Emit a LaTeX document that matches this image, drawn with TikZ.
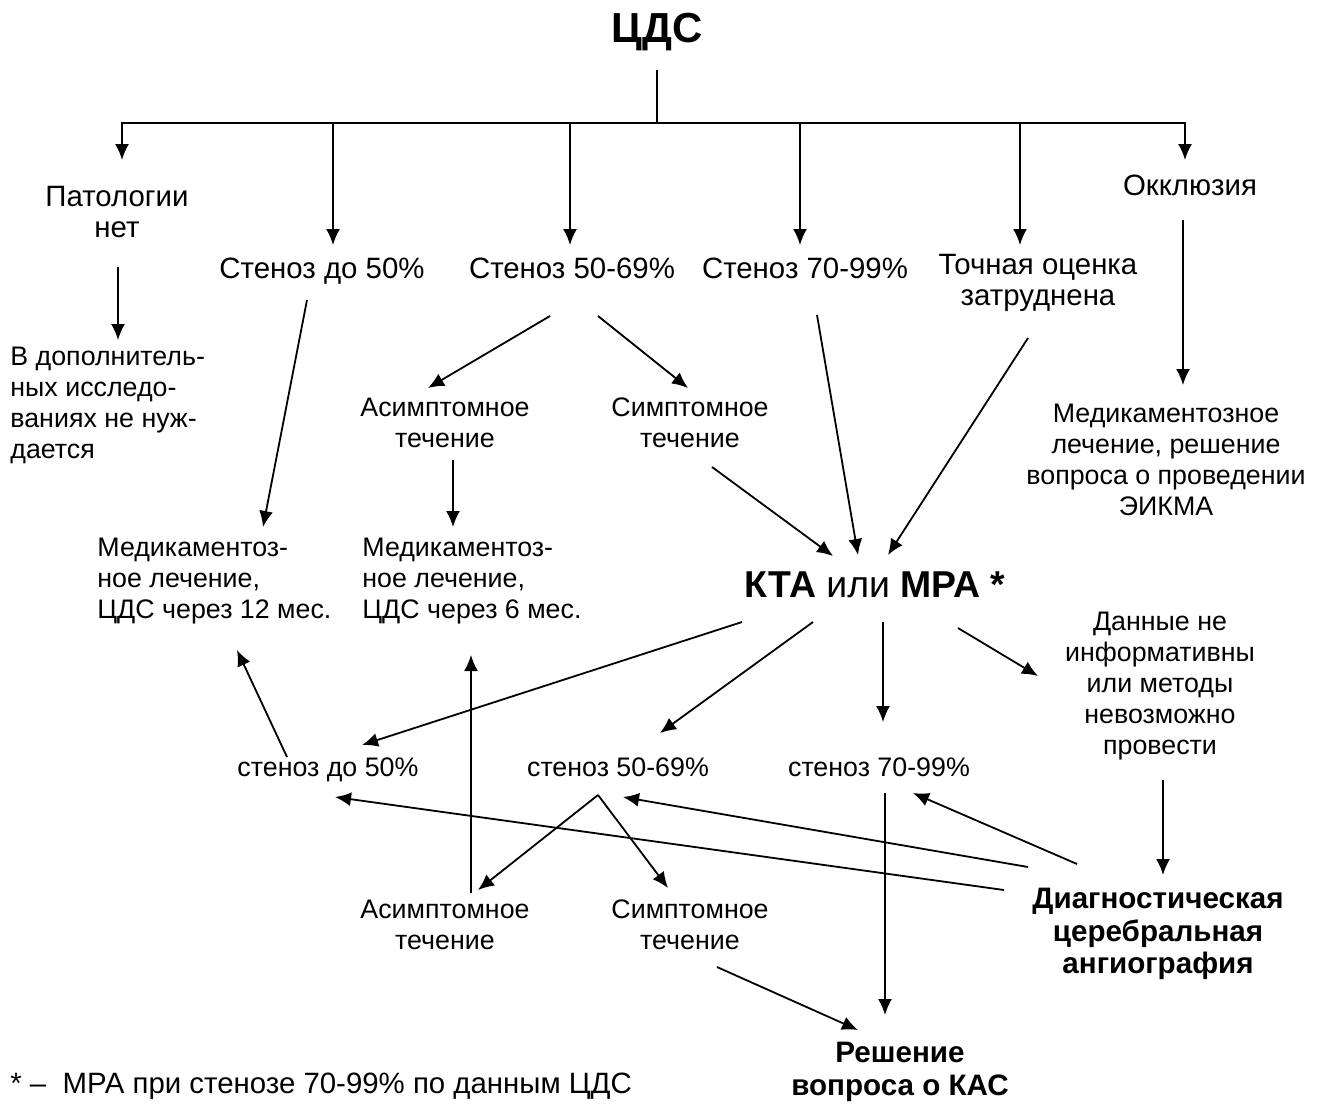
\documentclass[tikz,border=0pt]{standalone}
\usepackage{fontspec}
\setmainfont{Liberation Sans}
\usetikzlibrary{arrows.meta}
\begin{document}
\begin{tikzpicture}[x=0.5pt,y=-0.5pt,
  txtA/.style={font=\fontsize{14.7}{15.5}\selectfont, inner sep=0pt, align=center},
  txt/.style={font=\fontsize{13.4}{15.4}\selectfont, inner sep=0pt, align=center},
  txtl/.style={font=\fontsize{13.4}{15.5}\selectfont, inner sep=0pt, align=left, anchor=west},
  big/.style={font=\fontsize{18.7}{21}\selectfont, inner sep=0pt},
  bld/.style={font=\fontsize{14.8}{16.2}\selectfont\bfseries, inner sep=0pt, align=center},
  arr/.style={line width=0.9pt, -{Latex[length=8pt,width=7pt]}},
  ln/.style={line width=0.9pt}
]
\fill[white] (0,0) rectangle (1326,1104);
\useasboundingbox (0,0) rectangle (1326,1104);

% nodes
\node[inner sep=0pt, font=\fontsize{21}{24}\selectfont\bfseries] (cds) at (657,32) {ЦДС};
\coordinate (hub) at (657,123);
\node[txtA] (pat) at (117,212) {Патологии\\нет};
\node[txtA, anchor=base] (s50) at (322,278) {Стеноз до 50\%};
\node[txtA, anchor=base] (s5069) at (572,278) {Стеноз 50-69\%};
\node[txtA, anchor=base] (s7099) at (805,278) {Стеноз 70-99\%};
\node[txtA] (tochn) at (1038,283) {Точная оценка\\затруднена};
\node[txtA] (okkl) at (1190,185) {Окклюзия};
\node[txtl] (vdop) at (10,405) {В дополнитель-\\ных исследо-\\ваниях не нуж-\\дается};
\node[txt] (asym1) at (445,423) {Асимптомное\\течение};
\node[txt] (sym1) at (690,423) {Симптомное\\течение};
\node[txtl] (med12) at (97,581) {Медикаментоз-\\ное лечение,\\ЦДС через 12 мес.};
\node[txtl] (med6) at (362,581) {Медикаментоз-\\ное лечение,\\ЦДС через 6 мес.};
\node[txt] (medok) at (1166,460) {Медикаментозное\\лечение, решение\\вопроса о проведении\\ЭИКМА};
\node[big] (kta) at (875,585) {\textbf{КТА} или \textbf{МРА *}};
\node[txt] (dannye) at (1160,686) {Данные не\\информативны\\или методы\\невозможно\\провести};
\node[txt, anchor=base] (ls50) at (328,776) {стеноз до 50\%};
\node[txt, anchor=base] (ls5069) at (618,776) {стеноз 50-69\%};
\node[txt, anchor=base] (ls7099) at (879,776) {стеноз 70-99\%};
\node[txt] (asym2) at (445,925) {Асимптомное\\течение};
\node[txt] (sym2) at (690,925) {Симптомное\\течение};
\node[bld] (diag) at (1158,934) {Диагностическая\\церебральная\\ангиография};
\node[bld] (resh) at (900,1072) {Решение\\вопроса о КАС};
\node[txtl, font=\fontsize{14.7}{15.5}\selectfont] (foot) at (10,1086) {* – \ МРА при стенозе 70-99\% по данным ЦДС};

% named reference points at the text centres of the single-line labels
\coordinate (s50c) at (322,270);
\coordinate (s5069c) at (572,270);
\coordinate (s7099c) at (805,270);
\coordinate (ls50c) at (328,768);
\coordinate (ls5069c) at (618,768);
\coordinate (ls7099c) at (879,768);

% tree from ЦДС
\draw[ln] ([shift={(0,38)}]cds.center) -- (hub);
\draw[arr] (hub) -| ([shift={(5,-52)}]pat.center);
\draw[arr] (hub) -| ([shift={(11,-25)}]s50c);
\draw[arr] (hub) -| ([shift={(-2,-25)}]s5069c);
\draw[arr] (hub) -| ([shift={(-5,-25)}]s7099c);
\draw[arr] (hub) -| ([shift={(-18,-38)}]tochn.center);
\draw[arr] (hub) -| ([shift={(-5,-25)}]okkl.center);

% upper part
\draw[arr] ([shift={(1,55)}]pat.center) -- ([shift={(108,-65)}]vdop.west);
\draw[arr] ([shift={(-15,30)}]s50c) -- ([shift={(166,-54)}]med12.west);
\draw[arr] ([shift={(-22,46)}]s5069c) -- ([shift={(-17,-35)}]asym1.center);
\draw[arr] ([shift={(26,46)}]s5069c) -- ([shift={(-2,-35)}]sym1.center);
\draw[arr] ([shift={(8,37)}]asym1.center) -- ([shift={(91,-54)}]med6.west);
\draw[arr] ([shift={(22,44)}]sym1.center) -- ([shift={(-42,-29)}]kta.center);
\draw[arr] ([shift={(12,45)}]s7099c) -- ([shift={(-17,-30)}]kta.center);
\draw[arr] ([shift={(-10,55)}]tochn.center) -- ([shift={(13,-30)}]kta.center);
\draw[arr] ([shift={(-7,35)}]okkl.center) -- ([shift={(17,-75)}]medok.center);

% from KTA
\draw[arr] ([shift={(-133,37)}]kta.center) -- ([shift={(34,-23)}]ls50c);
\draw[arr] ([shift={(-62,37)}]kta.center) -- ([shift={(42,-35)}]ls5069c);
\draw[arr] ([shift={(8,37)}]kta.center) -- ([shift={(4,-46)}]ls7099c);
\draw[arr] ([shift={(83,43)}]kta.center) -- ([shift={(-122,-10)}]dannye.center);

% lower part
\draw[arr] ([shift={(-41,-11)}]ls50c) -- ([shift={(140,69)}]med12.west);
\draw[arr] ([shift={(26,-32)}]asym2.center) -- ([shift={(109,74)}]med6.west);
\coordinate (fork) at ([shift={(-20,27)}]ls5069c);
\draw[arr] (fork) -- ([shift={(33,-35)}]asym2.center);
\draw[arr] (fork) -- ([shift={(-22,-37)}]sym2.center);
\draw[arr] ([shift={(-154,-44)}]diag.center) -- ([shift={(7,29)}]ls50c);
\draw[arr] ([shift={(-130,-67)}]diag.center) -- ([shift={(5,29)}]ls5069c);
\draw[arr] ([shift={(-81,-70)}]diag.center) -- ([shift={(34,25)}]ls7099c);
\draw[arr] ([shift={(3,94)}]dannye.center) -- ([shift={(5,-59)}]diag.center);
\draw[arr] ([shift={(6,25)}]ls7099c) -- ([shift={(-15,-57)}]resh.center);
\draw[arr] ([shift={(27,42)}]sym2.center) -- ([shift={(-42,-42)}]resh.center);
\end{tikzpicture}
\end{document}
